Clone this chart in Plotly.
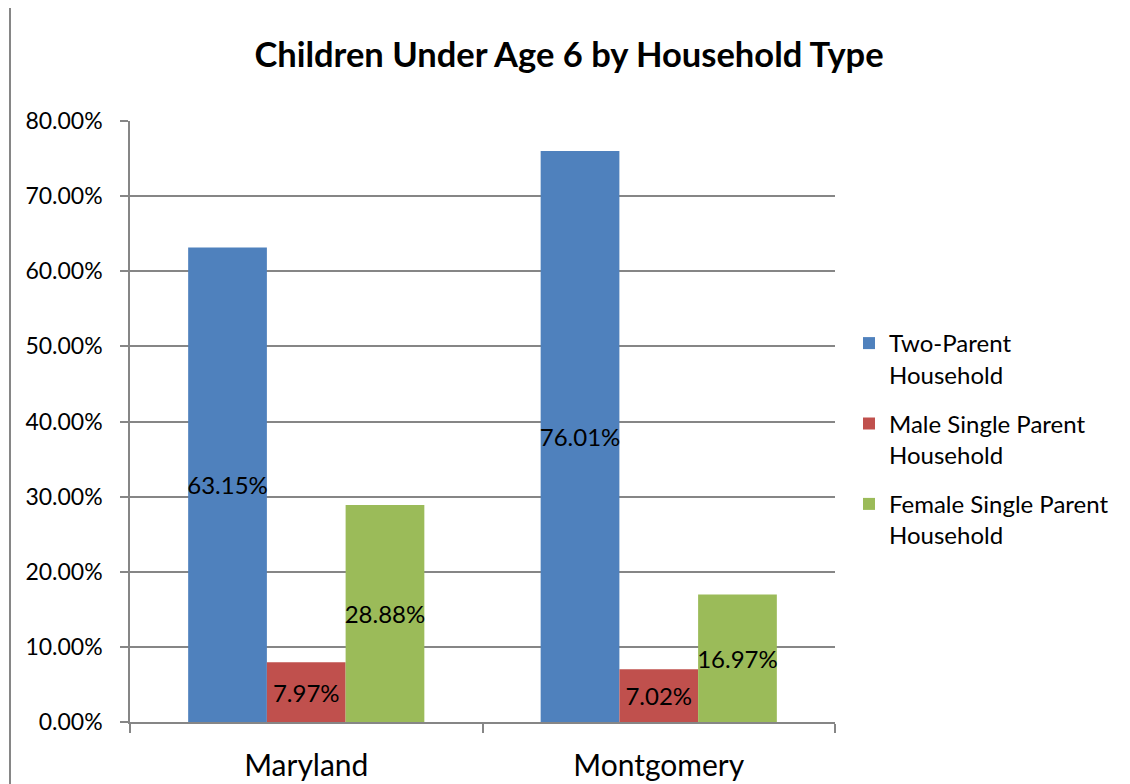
import plotly.graph_objects as go

categories = ["Maryland", "Montgomery"]
series_names = ["Two-Parent<br>Household", "Male Single Parent<br>Household", "Female Single Parent<br>Household"]
two_parent = [0.6315, 0.7601]
male_single = [0.0797, 0.0702]
female_single = [0.2888, 0.1697]
colors = ["#4F81BD", "#C0504D", "#9BBB59"]
y_ticks = [0, 0.1, 0.2, 0.3, 0.4, 0.5, 0.6, 0.7, 0.8]

FONT = "Lato"
W, H = 1122, 776  # page body has an 8px margin
L, T, PW, PH = 122, 113, 705, 601

fig = go.Figure()
for i, (name, vals, col) in enumerate(zip(series_names, [two_parent, male_single, female_single], colors)):
    fig.add_trace(go.Bar(
        x=categories, y=vals, name=name, legendgroup=f"g{i}",
        marker=dict(color=col, line=dict(width=0)),
        text=[f"{v*100:.2f}%" for v in vals], textposition="inside",
        insidetextanchor="middle", constraintext="none", textangle=0,
        textfont=dict(family=FONT, size=24, color="black"),
    ))

fig.update_layout(
    width=W, height=H,
    paper_bgcolor="white", plot_bgcolor="white",
    margin=dict(l=L, r=W - L - PW, t=T, b=H - T - PH, autoexpand=False),
    barmode="group", bargap=0.33, bargroupgap=0,
    title=dict(text="<b>Children Under Age 6 by Household Type</b>", x=0.5, xanchor="center",
               y=1 - 47/H, yanchor="middle", font=dict(family=FONT, size=34.5, color="black")),
    font=dict(family=FONT, color="black"),
    showlegend=True,
    legend=dict(x=(841 - L)/PW, y=1 - (313 - T)/PH, xanchor="left", yanchor="top",
                font=dict(family=FONT, size=24, color="black"), valign="top",
                tracegroupgap=15, itemwidth=30, bgcolor="rgba(0,0,0,0)"),
)
fig.update_yaxes(range=[0, 0.8], tickvals=y_ticks, tickformat=".2%",
                 showgrid=True, gridcolor="#868686", gridwidth=1.5,
                 showline=True, linecolor="#868686", linewidth=1.5,
                 ticks="outside", ticklen=8, tickcolor="#868686", tickwidth=1.5,
                 ticklabelstandoff=13, automargin=False,
                 tickfont=dict(family=FONT, size=23, color="black"), zeroline=False)
fig.update_xaxes(showline=True, linecolor="#868686", linewidth=1.5,
                 ticks="outside", ticklen=9, tickcolor="#868686", tickwidth=1.5,
                 tickson="boundaries", showgrid=False, ticklabelstandoff=16, automargin=False,
                 tickfont=dict(family=FONT, size=30, color="black"))
# chart border line on the left
fig.add_shape(type="line", xref="paper", yref="paper",
              x0=(2 - L)/PW, x1=(2 - L)/PW, y0=-(H - T - PH)/PH, y1=1 + T/PH,
              line=dict(color="#868686", width=2))
fig.write_html("out.html")
